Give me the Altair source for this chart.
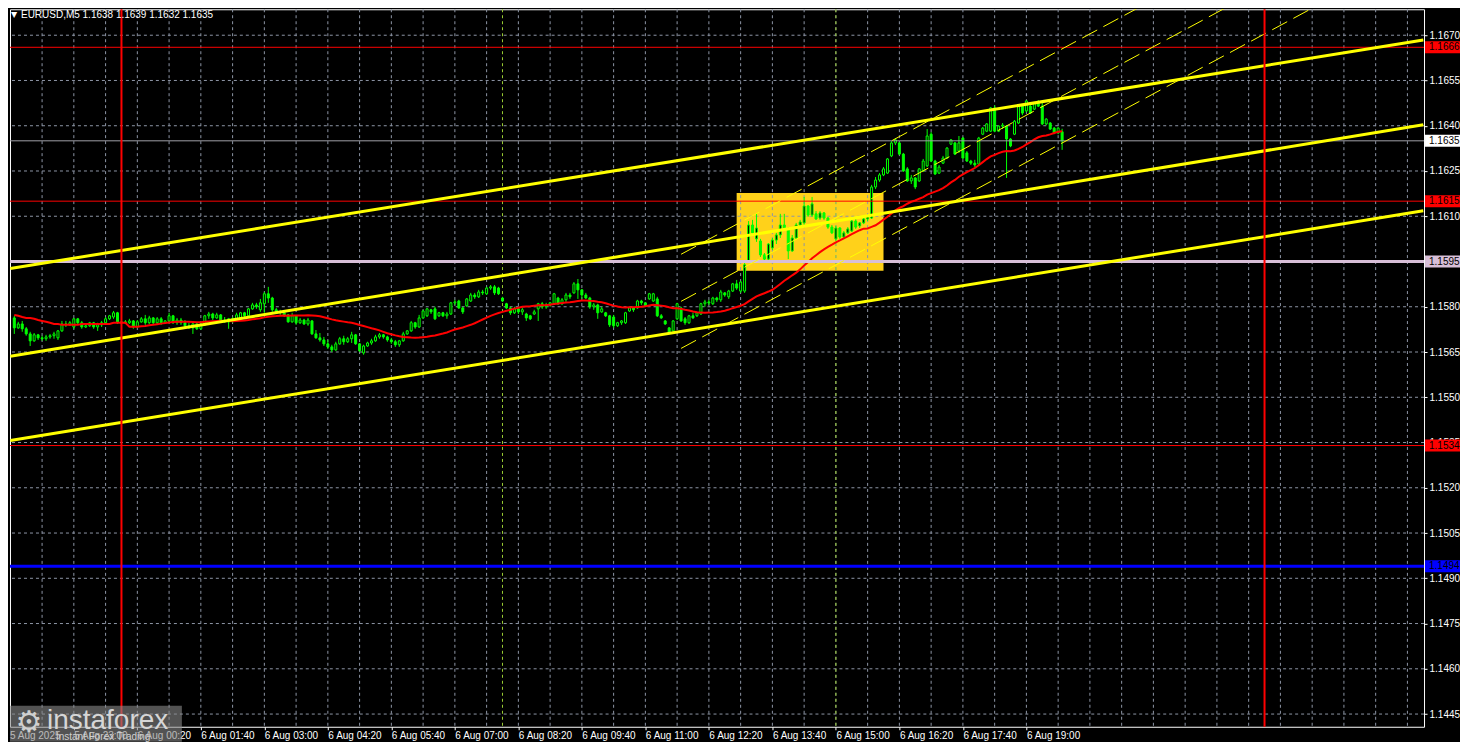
import altair as alt
import pandas as pd

FONT = "Liberation Sans"

# ---------------- data ----------------
# 5-minute bars, minutes relative to 6 Aug 2025 00:00 (first visible bar 5 Aug 21:45, last 6 Aug 19:45)
bar_minutes = list(range(-135, 1190, 5))

opens = [
 1.15763, 1.15730, 1.15743, 1.15727, 1.15710, 1.15687, 1.15707, 1.15697, 1.15694, 1.15700,
 1.15704, 1.15697, 1.15720, 1.15743, 1.15740, 1.15733, 1.15760, 1.15747, 1.15733, 1.15737,
 1.15747, 1.15733, 1.15740, 1.15747, 1.15760, 1.15766, 1.15780, 1.15747, 1.15750, 1.15747,
 1.15753, 1.15733, 1.15750, 1.15760, 1.15747, 1.15763, 1.15747, 1.15760, 1.15747, 1.15753,
 1.15770, 1.15747, 1.15756, 1.15747, 1.15737, 1.15730, 1.15743, 1.15727, 1.15740, 1.15770,
 1.15776, 1.15763, 1.15773, 1.15756, 1.15750, 1.15760, 1.15753, 1.15763, 1.15780, 1.15770,
 1.15793, 1.15806, 1.15790, 1.15810, 1.15843, 1.15829, 1.15790, 1.15783, 1.15780, 1.15773,
 1.15750, 1.15770, 1.15747, 1.15756, 1.15743, 1.15753, 1.15710, 1.15697, 1.15690, 1.15677,
 1.15667, 1.15657, 1.15677, 1.15694, 1.15684, 1.15694, 1.15707, 1.15677, 1.15647, 1.15670,
 1.15680, 1.15687, 1.15700, 1.15707, 1.15700, 1.15690, 1.15684, 1.15674, 1.15687, 1.15710,
 1.15720, 1.15747, 1.15733, 1.15763, 1.15770, 1.15790, 1.15793, 1.15770, 1.15780, 1.15770,
 1.15776, 1.15813, 1.15819, 1.15796, 1.15803, 1.15819, 1.15839, 1.15833, 1.15849, 1.15843,
 1.15862, 1.15866, 1.15862, 1.15829, 1.15810, 1.15796, 1.15780, 1.15793, 1.15783, 1.15776,
 1.15770, 1.15776, 1.15793, 1.15810, 1.15800, 1.15806, 1.15810, 1.15829, 1.15810, 1.15823,
 1.15839, 1.15846, 1.15876, 1.15856, 1.15839, 1.15829, 1.15800, 1.15806, 1.15783, 1.15780,
 1.15770, 1.15766, 1.15737, 1.15747, 1.15747, 1.15786, 1.15796, 1.15796, 1.15819, 1.15813,
 1.15826, 1.15819, 1.15826, 1.15770, 1.15753, 1.15730, 1.15720, 1.15760, 1.15796, 1.15760,
 1.15747, 1.15770, 1.15770, 1.15776, 1.15810, 1.15816, 1.15810, 1.15829, 1.15823, 1.15846,
 1.15833, 1.15852, 1.15876, 1.15852, 1.15852, 1.15952, 1.16071, 1.16025, 1.16018, 1.15972,
 1.15958, 1.15995, 1.16021, 1.16038, 1.16071, 1.16058, 1.15985, 1.16028, 1.16071, 1.16078,
 1.16134, 1.16104, 1.16108, 1.16094, 1.16111, 1.16094, 1.16064, 1.16025, 1.16061, 1.16031,
 1.16045, 1.16051, 1.16084, 1.16068, 1.16078, 1.16091, 1.16094, 1.16197, 1.16220, 1.16237,
 1.16243, 1.16300, 1.16343, 1.16343, 1.16306, 1.16257, 1.16217, 1.16227, 1.16217, 1.16250,
 1.16267, 1.16372, 1.16283, 1.16243, 1.16276, 1.16293, 1.16339, 1.16343, 1.16316, 1.16359,
 1.16310, 1.16283, 1.16276, 1.16273, 1.16372, 1.16382, 1.16382, 1.16459, 1.16382, 1.16399,
 1.16399, 1.16356, 1.16372, 1.16409, 1.16465, 1.16449, 1.16465, 1.16455, 1.16475, 1.16465,
 1.16406, 1.16409, 1.16392, 1.16376, 1.16380]

highs = [
 1.15770, 1.15750, 1.15753, 1.15733, 1.15717, 1.15713, 1.15710, 1.15704, 1.15707, 1.15710,
 1.15717, 1.15723, 1.15753, 1.15753, 1.15753, 1.15763, 1.15763, 1.15753, 1.15743, 1.15750,
 1.15750, 1.15747, 1.15753, 1.15766, 1.15773, 1.15786, 1.15783, 1.15753, 1.15756, 1.15760,
 1.15756, 1.15756, 1.15766, 1.15773, 1.15770, 1.15766, 1.15766, 1.15766, 1.15756, 1.15780,
 1.15773, 1.15763, 1.15763, 1.15756, 1.15747, 1.15750, 1.15747, 1.15747, 1.15773, 1.15783,
 1.15780, 1.15780, 1.15776, 1.15766, 1.15763, 1.15766, 1.15780, 1.15783, 1.15783, 1.15796,
 1.15813, 1.15813, 1.15826, 1.15849, 1.15866, 1.15833, 1.15796, 1.15790, 1.15783, 1.15776,
 1.15780, 1.15773, 1.15763, 1.15760, 1.15763, 1.15756, 1.15723, 1.15713, 1.15700, 1.15690,
 1.15674, 1.15684, 1.15700, 1.15704, 1.15700, 1.15717, 1.15710, 1.15680, 1.15674, 1.15684,
 1.15694, 1.15707, 1.15713, 1.15710, 1.15704, 1.15697, 1.15690, 1.15690, 1.15717, 1.15723,
 1.15753, 1.15750, 1.15773, 1.15790, 1.15796, 1.15793, 1.15800, 1.15783, 1.15783, 1.15783,
 1.15816, 1.15823, 1.15823, 1.15800, 1.15829, 1.15846, 1.15846, 1.15856, 1.15856, 1.15866,
 1.15872, 1.15872, 1.15866, 1.15833, 1.15813, 1.15800, 1.15800, 1.15800, 1.15796, 1.15780,
 1.15773, 1.15790, 1.15813, 1.15816, 1.15813, 1.15816, 1.15846, 1.15833, 1.15829, 1.15846,
 1.15846, 1.15882, 1.15892, 1.15859, 1.15846, 1.15833, 1.15813, 1.15810, 1.15800, 1.15783,
 1.15773, 1.15773, 1.15750, 1.15756, 1.15783, 1.15800, 1.15800, 1.15823, 1.15823, 1.15816,
 1.15846, 1.15846, 1.15833, 1.15776, 1.15756, 1.15733, 1.15756, 1.15813, 1.15800, 1.15766,
 1.15773, 1.15780, 1.15783, 1.15813, 1.15823, 1.15823, 1.15833, 1.15833, 1.15856, 1.15849,
 1.15856, 1.15879, 1.15889, 1.15886, 1.15945, 1.16084, 1.16088, 1.16108, 1.16025, 1.15978,
 1.16011, 1.16028, 1.16045, 1.16108, 1.16108, 1.16064, 1.16038, 1.16078, 1.16088, 1.16164,
 1.16137, 1.16164, 1.16117, 1.16117, 1.16114, 1.16098, 1.16071, 1.16068, 1.16064, 1.16051,
 1.16064, 1.16088, 1.16091, 1.16081, 1.16094, 1.16104, 1.16204, 1.16230, 1.16243, 1.16263,
 1.16293, 1.16349, 1.16359, 1.16346, 1.16310, 1.16263, 1.16237, 1.16230, 1.16260, 1.16290,
 1.16389, 1.16379, 1.16287, 1.16270, 1.16300, 1.16329, 1.16356, 1.16346, 1.16366, 1.16363,
 1.16316, 1.16287, 1.16287, 1.16363, 1.16396, 1.16409, 1.16462, 1.16468, 1.16402, 1.16409,
 1.16402, 1.16359, 1.16419, 1.16468, 1.16472, 1.16485, 1.16468, 1.16478, 1.16485, 1.16482,
 1.16425, 1.16412, 1.16396, 1.16396, 1.16390]

lows = [
 1.15710, 1.15727, 1.15717, 1.15704, 1.15670, 1.15684, 1.15690, 1.15687, 1.15687, 1.15694,
 1.15694, 1.15690, 1.15717, 1.15733, 1.15737, 1.15727, 1.15740, 1.15727, 1.15730, 1.15733,
 1.15727, 1.15720, 1.15733, 1.15743, 1.15756, 1.15760, 1.15743, 1.15740, 1.15743, 1.15743,
 1.15727, 1.15730, 1.15747, 1.15740, 1.15743, 1.15740, 1.15743, 1.15740, 1.15743, 1.15750,
 1.15743, 1.15740, 1.15740, 1.15733, 1.15727, 1.15710, 1.15723, 1.15723, 1.15737, 1.15760,
 1.15756, 1.15760, 1.15753, 1.15747, 1.15727, 1.15747, 1.15750, 1.15760, 1.15763, 1.15766,
 1.15790, 1.15793, 1.15783, 1.15780, 1.15813, 1.15783, 1.15776, 1.15773, 1.15766, 1.15747,
 1.15747, 1.15740, 1.15743, 1.15740, 1.15737, 1.15707, 1.15694, 1.15684, 1.15670, 1.15660,
 1.15650, 1.15654, 1.15674, 1.15674, 1.15680, 1.15680, 1.15674, 1.15650, 1.15641, 1.15667,
 1.15674, 1.15684, 1.15694, 1.15694, 1.15684, 1.15677, 1.15667, 1.15667, 1.15684, 1.15707,
 1.15717, 1.15727, 1.15730, 1.15760, 1.15766, 1.15776, 1.15756, 1.15766, 1.15766, 1.15760,
 1.15773, 1.15806, 1.15793, 1.15776, 1.15800, 1.15816, 1.15826, 1.15829, 1.15839, 1.15839,
 1.15856, 1.15839, 1.15839, 1.15816, 1.15793, 1.15773, 1.15776, 1.15776, 1.15773, 1.15753,
 1.15756, 1.15773, 1.15753, 1.15793, 1.15793, 1.15800, 1.15806, 1.15806, 1.15806, 1.15816,
 1.15826, 1.15843, 1.15826, 1.15826, 1.15826, 1.15793, 1.15790, 1.15760, 1.15780, 1.15766,
 1.15733, 1.15730, 1.15733, 1.15740, 1.15743, 1.15783, 1.15783, 1.15793, 1.15806, 1.15800,
 1.15823, 1.15816, 1.15766, 1.15760, 1.15740, 1.15710, 1.15717, 1.15756, 1.15750, 1.15740,
 1.15743, 1.15760, 1.15766, 1.15773, 1.15800, 1.15806, 1.15806, 1.15816, 1.15816, 1.15833,
 1.15826, 1.15849, 1.15856, 1.15846, 1.15846, 1.15945, 1.16038, 1.16015, 1.15965, 1.15949,
 1.15955, 1.15988, 1.16008, 1.16028, 1.16055, 1.15958, 1.15982, 1.16025, 1.16064, 1.16071,
 1.16098, 1.16098, 1.16088, 1.16088, 1.16088, 1.16058, 1.16041, 1.16018, 1.16025, 1.16028,
 1.16041, 1.16048, 1.16058, 1.16061, 1.16074, 1.16084, 1.16091, 1.16190, 1.16214, 1.16233,
 1.16240, 1.16296, 1.16336, 1.16303, 1.16247, 1.16214, 1.16207, 1.16190, 1.16214, 1.16247,
 1.16263, 1.16280, 1.16237, 1.16240, 1.16273, 1.16290, 1.16336, 1.16303, 1.16310, 1.16290,
 1.16280, 1.16270, 1.16263, 1.16270, 1.16369, 1.16379, 1.16379, 1.16379, 1.16379, 1.16389,
 1.16227, 1.16329, 1.16369, 1.16406, 1.16435, 1.16445, 1.16439, 1.16452, 1.16462, 1.16402,
 1.16402, 1.16386, 1.16372, 1.16372, 1.16320]

closes = [
 1.15730, 1.15743, 1.15727, 1.15710, 1.15687, 1.15707, 1.15697, 1.15694, 1.15700, 1.15704,
 1.15710, 1.15720, 1.15743, 1.15740, 1.15747, 1.15760, 1.15747, 1.15733, 1.15737, 1.15747,
 1.15733, 1.15740, 1.15747, 1.15760, 1.15770, 1.15780, 1.15747, 1.15750, 1.15747, 1.15753,
 1.15733, 1.15750, 1.15760, 1.15747, 1.15763, 1.15747, 1.15760, 1.15747, 1.15753, 1.15770,
 1.15747, 1.15756, 1.15747, 1.15737, 1.15730, 1.15743, 1.15727, 1.15740, 1.15770, 1.15776,
 1.15763, 1.15773, 1.15756, 1.15750, 1.15760, 1.15753, 1.15773, 1.15780, 1.15770, 1.15793,
 1.15806, 1.15800, 1.15813, 1.15843, 1.15829, 1.15790, 1.15783, 1.15780, 1.15773, 1.15750,
 1.15770, 1.15747, 1.15756, 1.15743, 1.15756, 1.15710, 1.15697, 1.15690, 1.15677, 1.15667,
 1.15657, 1.15677, 1.15694, 1.15684, 1.15694, 1.15707, 1.15677, 1.15654, 1.15670, 1.15680,
 1.15687, 1.15700, 1.15707, 1.15700, 1.15690, 1.15684, 1.15674, 1.15687, 1.15710, 1.15720,
 1.15747, 1.15733, 1.15763, 1.15786, 1.15793, 1.15783, 1.15760, 1.15780, 1.15770, 1.15776,
 1.15813, 1.15816, 1.15796, 1.15783, 1.15826, 1.15839, 1.15833, 1.15849, 1.15846, 1.15862,
 1.15866, 1.15846, 1.15843, 1.15819, 1.15796, 1.15780, 1.15793, 1.15783, 1.15790, 1.15763,
 1.15760, 1.15783, 1.15810, 1.15800, 1.15806, 1.15813, 1.15843, 1.15810, 1.15823, 1.15839,
 1.15833, 1.15876, 1.15856, 1.15839, 1.15829, 1.15800, 1.15806, 1.15780, 1.15793, 1.15770,
 1.15740, 1.15737, 1.15747, 1.15753, 1.15780, 1.15796, 1.15790, 1.15819, 1.15813, 1.15803,
 1.15843, 1.15843, 1.15770, 1.15763, 1.15743, 1.15713, 1.15753, 1.15810, 1.15753, 1.15747,
 1.15770, 1.15763, 1.15780, 1.15810, 1.15816, 1.15813, 1.15829, 1.15823, 1.15849, 1.15839,
 1.15852, 1.15876, 1.15862, 1.15882, 1.15939, 1.16071, 1.16045, 1.16061, 1.15972, 1.15958,
 1.16008, 1.16021, 1.16038, 1.16071, 1.16058, 1.15985, 1.16028, 1.16071, 1.16081, 1.16134,
 1.16104, 1.16141, 1.16091, 1.16111, 1.16094, 1.16064, 1.16045, 1.16061, 1.16031, 1.16045,
 1.16058, 1.16084, 1.16064, 1.16078, 1.16091, 1.16098, 1.16197, 1.16220, 1.16237, 1.16257,
 1.16290, 1.16343, 1.16353, 1.16306, 1.16250, 1.16217, 1.16227, 1.16197, 1.16257, 1.16283,
 1.16366, 1.16283, 1.16240, 1.16263, 1.16293, 1.16326, 1.16353, 1.16306, 1.16343, 1.16293,
 1.16283, 1.16276, 1.16270, 1.16359, 1.16392, 1.16406, 1.16459, 1.16382, 1.16399, 1.16402,
 1.16356, 1.16333, 1.16415, 1.16465, 1.16442, 1.16482, 1.16442, 1.16475, 1.16465, 1.16406,
 1.16422, 1.16389, 1.16376, 1.16392, 1.16350]

# moving-average values read for the first bars (before 30 bars of history are visible)
ma_head = [1.15773, 1.15770, 1.15766, 1.15763, 1.15763, 1.15760, 1.15756, 1.15753, 1.15750, 1.15747,
           1.15743, 1.15743, 1.15740, 1.15740, 1.15740, 1.15740, 1.15740, 1.15743, 1.15743, 1.15743,
           1.15743, 1.15743, 1.15743, 1.15743, 1.15743, 1.15747, 1.15747, 1.15747, 1.15747]
ma_period = 30

price_ticks = [1.1445, 1.1460, 1.1475, 1.1490, 1.1505, 1.1520, 1.1535, 1.1550,
               1.1565, 1.1580, 1.1595, 1.1610, 1.1625, 1.1640, 1.1655, 1.1670]
label_minutes = list(range(-60, 1141, 80))
grid_minutes = list(range(-100, 1635, 40))

level_prices = [1.1666, 1.1635, 1.1615, 1.1595, 1.1534, 1.1494]
level_colors = ["#ff0000", "#a0a0a8", "#ff0000", "#d8bfd8", "#ff0000", "#0000ff"]
level_widths = [1, 1, 1, 3, 1, 3]
level_box_colors = ["#ff0000", "#ffffff", "#ff0000", "#d8bfd8", "#ff0000", "#0000ff"]

day_lines = [0, 1440]
session_lines = [480, 900]

trend_ids = ["upper", "upper", "middle", "middle", "lower", "lower"]
trend_minutes = [-140, 1640, -140, 1640, -140, 1640]
trend_prices = [1.15927, 1.16684, 1.15636, 1.16403, 1.15357, 1.16118]

channel_ids = ["up", "up", "mid", "mid", "dn", "dn"]
channel_minutes = [705, 1640, 705, 1640, 705, 1640]
channel_prices = [1.15974, 1.17300, 1.15818, 1.17144, 1.15662, 1.16988]

zone_minutes = [775, 960]
zone_prices = [1.15919, 1.16177]

header_symbol = "EURUSD,M5"
header_ohlc = "1.1638 1.1639 1.1632 1.1635"

# ---------------- frames ----------------
df = pd.DataFrame({"t": bar_minutes, "o": opens, "h": highs, "l": lows, "c": closes})
ma = df["c"].rolling(ma_period).mean()
ma.iloc[:len(ma_head)] = ma_head
df["ma"] = ma

X = alt.Scale(domain=[-134.125, 1634.625], nice=False, zero=False)
Y = alt.Scale(domain=[1.144079, 1.167861], nice=False, zero=False)
GRID = "#8e96a6"

x_axis = alt.Axis(values=label_minutes,
                  labelExpr="utcFormat(1754438400000 + datum.value * 60000, '%-d %b %H:%M')",
                  grid=False, domain=False, ticks=True, tickSize=3, tickColor="#ffffff",
                  labelColor="#ffffff", labelFont=FONT, labelFontSize=10, labelAlign="left",
                  labelBaseline="top", labelPadding=1, labelFlush=False, labelOverlap=False, title=None)
y_axis = alt.Axis(orient="right", values=price_ticks, format=".4f", grid=False, domain=False,
                  ticks=True, tickSize=3, tickColor="#ffffff", labelColor="#ffffff", labelFont=FONT,
                  labelFontSize=10, labelPadding=2, labelFlush=False, labelOverlap=False, title=None)


def xq(f):
    return alt.X(f, type="quantitative", scale=X, axis=x_axis)


def yq(f):
    return alt.Y(f, type="quantitative", scale=Y, axis=y_axis)


zone = alt.Chart(pd.DataFrame({"t1": [zone_minutes[0]], "t2": [zone_minutes[1]],
                               "p1": [zone_prices[0]], "p2": [zone_prices[1]]})).mark_rect(
    color="#ffd11a").encode(x=xq("t1"), x2="t2", y=yq("p1"), y2="p2")

vgrid = alt.Chart(pd.DataFrame({"t": grid_minutes})).mark_rule(
    color=GRID, strokeDash=[3, 3], strokeWidth=1).encode(x=xq("t"))
hgrid = alt.Chart(pd.DataFrame({"p": price_ticks})).mark_rule(
    color=GRID, strokeDash=[3, 3], strokeWidth=1).encode(y=yq("p"))

sessions = alt.Chart(pd.DataFrame({"t": session_lines})).mark_rule(
    color="#9acd32", strokeDash=[3, 3], strokeWidth=1).encode(x=xq("t"))

wicks = alt.Chart(df).mark_rule(color="#00ff00", strokeWidth=1).encode(
    x=xq("t"), y=yq("l"), y2="h")

bodies = alt.Chart(df).mark_bar(width=2, stroke="#00ff00", strokeWidth=1).encode(
    x=xq("t"), y=yq("o"), y2="c",
    fill=alt.condition("datum.c >= datum.o", alt.value("#000000"), alt.value("#00ff00")))

ma_line = alt.Chart(df).mark_line(color="#ff0000", strokeWidth=2).encode(x=xq("t"), y=yq("ma"))

levels_df = pd.DataFrame({"p": level_prices, "col": level_colors, "w": level_widths,
                          "box": level_box_colors})
levels = alt.Chart(levels_df).mark_rule().encode(
    y=yq("p"), color=alt.Color("col:N", scale=None), strokeWidth=alt.StrokeWidth("w:Q", scale=None))

trend = alt.Chart(pd.DataFrame({"id": trend_ids, "t": trend_minutes, "p": trend_prices})).mark_line(
    color="#ffff00", strokeWidth=3, clip=True).encode(x=xq("t"), y=yq("p"), detail="id:N")

channel = alt.Chart(pd.DataFrame({"id": channel_ids, "t": channel_minutes, "p": channel_prices})).mark_line(
    color="#ffff00", strokeWidth=1, strokeDash=[17, 7], clip=True).encode(x=xq("t"), y=yq("p"), detail="id:N")

days = alt.Chart(pd.DataFrame({"t": day_lines})).mark_rule(color="#ff0000", strokeWidth=2).encode(x=xq("t"))

boxes = alt.Chart(levels_df).transform_calculate(
    top="datum.p + 0.0002", bot="datum.p - 0.0002").mark_rect().encode(
    x=alt.value(1416), x2=alt.value(1451), y=yq("top:Q"), y2="bot:Q",
    color=alt.Color("box:N", scale=None))
box_text = alt.Chart(levels_df).mark_text(align="left", baseline="middle", font=FONT, fontSize=10,
                                          color="#000000").encode(
    x=alt.value(1420), y=yq("p"), text=alt.Text("p:Q", format=".4f"))

hdr = pd.DataFrame({"s": [header_symbol + "  " + header_ohlc]})
header_tri = alt.Chart(hdr).mark_text(text="\u25bc", align="left", baseline="middle", fontSize=8,
                                      color="#ffffff", font="DejaVu Sans").encode(
    x=alt.value(1), y=alt.value(6))
header_txt = alt.Chart(hdr).mark_text(align="left", baseline="middle", font=FONT, fontSize=10,
                                      color="#ffffff").encode(x=alt.value(11), y=alt.value(6), text="s:N")

first_label = alt.Chart(pd.DataFrame({"s": ["5 Aug 2025"]})).mark_text(
    align="left", baseline="top", font=FONT, fontSize=10, color="#ffffff").encode(
    x=alt.value(0), y=alt.value(722), text="s:N")

wm = pd.DataFrame({"a": ["instaforex"], "b": ["Instant Forex Trading"], "g": ["\u2699"]})
wm_rect = alt.Chart(wm).mark_rect(color="#8a8a8a", opacity=0.6).encode(
    x=alt.value(0), x2=alt.value(172), y=alt.value(697), y2=alt.value(733))
wm_gear = alt.Chart(wm).mark_text(align="center", baseline="middle", fontSize=30, color="#cfcfcf",
                                  font="DejaVu Sans").encode(x=alt.value(19), y=alt.value(714), text="g:N")
wm_name = alt.Chart(wm).mark_text(align="left", baseline="middle", fontSize=28, color="#d6d6d6",
                                  font=FONT).encode(x=alt.value(37), y=alt.value(712), text="a:N")
wm_sub = alt.Chart(wm).mark_text(align="left", baseline="middle", fontSize=10, color="#d0d0d0",
                                 font=FONT).encode(x=alt.value(46), y=alt.value(728), text="b:N")

chart = alt.layer(
    zone, vgrid, hgrid, sessions, wicks, bodies, ma_line, levels, trend, channel, days,
    boxes, box_text, header_tri, header_txt, first_label, wm_rect, wm_gear, wm_name, wm_sub
).properties(
    width=1415, height=718, background="#000000",
    padding={"left": 0, "top": 0, "right": 0, "bottom": 0}
).configure_view(stroke="#ffffff", strokeWidth=1)

chart.save("out.html", embed_options={"renderer": "svg", "actions": False})
